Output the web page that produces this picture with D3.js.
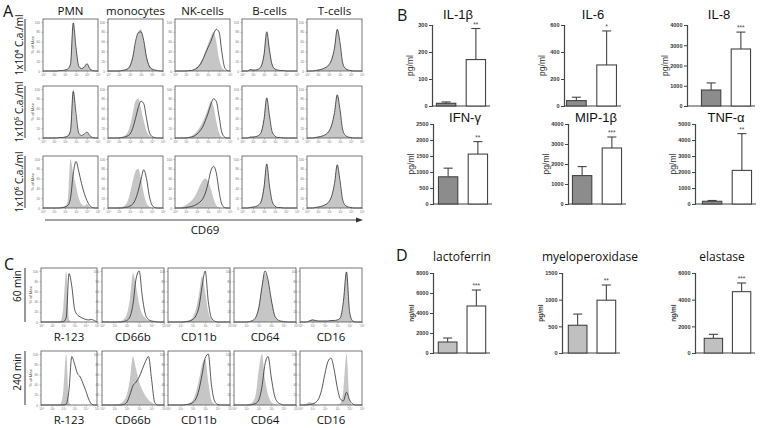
<!DOCTYPE html>
<html><head><meta charset="utf-8">
<script src="https://cdn.jsdelivr.net/npm/d3@7"></script>
<style>body{margin:0;background:#fff}svg{display:block}</style>
</head><body>
<script>
// ---------------- DATA ----------------
const cellTypes = ["PMN","monocytes","NK-cells","B-cells","T-cells"];
const concLabels = ["1x10⁴ C.a./ml","1x10⁵ C.a./ml","1x10⁶ C.a./ml"];
const histTickLabels = ["10⁰","10¹","10²","10³","10⁴","10⁵"];
const pctTicks = [0,20,40,60,80,100];
const histAxisLabel = "% of Max";
const aAxisLabel = "CD69";
// Panel A: 21 bins over 5 decades; rows = concentration, entries = cell type
const aControl = [
  [[0,0,0,0,0,0,1,1,2,4,15,100,45,10,5,8,14,5,1,0,0],
   [0,0,0,0,0,1,2,5,12,30,55,80,85,60,30,12,5,2,1,0,0],
   [0,0,0,0,0,1,2,4,8,15,25,40,55,70,80,60,25,8,2,0,0],
   [0,0,0,3,2,2,4,10,35,78,45,12,4,2,1,1,0,0,0,0,0],
   [0,0,0,1,2,3,5,8,14,25,45,86,55,15,5,2,1,0,0,0,0]],
  [[0,0,0,0,0,0,1,1,2,5,18,100,40,8,4,6,10,4,1,0,0],
   [0,0,0,0,1,2,4,10,25,50,75,80,60,35,15,5,2,1,0,0,0],
   [0,0,0,0,1,2,4,8,14,22,32,45,60,75,65,35,10,2,0,0,0],
   [0,0,0,2,2,3,5,12,40,80,42,10,3,1,1,0,0,0,0,0,0],
   [0,0,0,1,2,3,5,8,15,28,50,90,55,14,4,2,1,0,0,0,0]],
  [[0,0,0,0,0,0,1,2,4,15,100,70,45,20,8,4,8,2,0,0,0],
   [0,0,0,0,1,2,5,12,30,55,75,80,60,30,10,3,1,0,0,0,0],
   [0,0,1,3,6,10,15,22,32,45,55,60,55,40,20,6,1,0,0,0,0],
   [0,0,0,1,2,3,6,15,45,88,42,12,4,1,1,0,0,0,0,0,0],
   [0,0,0,1,2,3,5,8,14,26,48,90,52,14,5,2,1,0,0,0,0]]
];
const aStimulated = [
  [[0,0,0,0,0,0,1,1,2,4,14,98,48,10,5,8,15,5,1,0,0],
   [0,0,0,0,0,1,2,4,10,28,60,78,80,62,28,10,4,2,1,0,0],
   [0,0,0,0,0,1,1,3,6,12,22,35,48,60,75,85,80,40,8,1,0],
   [0,0,0,3,2,2,4,10,33,80,42,12,4,2,1,1,0,0,0,0,0],
   [0,0,0,1,2,3,5,8,13,24,47,85,58,16,5,2,1,0,0,0,0]],
  [[0,0,0,0,0,0,1,1,2,4,15,95,50,10,5,8,12,5,1,0,0],
   [0,0,0,0,0,1,2,4,8,20,40,62,75,70,40,12,3,1,0,0,0],
   [0,0,0,0,0,1,2,4,8,14,22,35,50,68,80,75,45,12,2,0,0],
   [0,0,0,2,2,3,5,12,38,82,45,12,4,1,1,0,0,0,0,0,0],
   [0,0,0,1,2,3,5,8,14,27,52,88,58,16,5,2,1,0,0,0,0]],
  [[0,0,0,0,0,0,0,1,2,5,20,70,95,75,50,30,15,5,1,0,0],
   [0,0,0,0,0,0,1,2,4,8,18,35,58,78,60,25,6,1,0,0,0],
   [0,0,0,0,1,2,3,5,8,12,18,30,50,75,85,72,35,8,1,0,0],
   [0,0,0,1,2,3,6,14,42,90,45,13,4,1,1,0,0,0,0,0,0],
   [0,0,0,1,2,3,5,8,13,25,50,88,56,16,5,2,1,0,0,0,0]]
];
// Panel C
const markers = ["R-123","CD66b","CD11b","CD64","CD16"];
const timeLabels = ["60 min","240 min"];
const cControl = [
  [[0,0,0,0,0,0,0,2,30,100,5,0,0,0,0,0,0,0,0,0,0],
   [0,0,0,0,0,1,2,5,15,45,95,70,35,15,8,4,2,1,0,0,0],
   [0,0,0,0,0,1,2,4,10,25,55,90,60,20,5,1,0,0,0,0,0],
   [0,0,0,0,0,1,3,10,30,70,95,80,45,15,5,2,1,0,0,0,0],
   [0,0,0,2,5,3,2,2,2,2,3,3,4,8,40,100,20,2,0,0,0]],
  [[0,0,0,0,0,0,0,2,30,100,5,0,0,0,0,0,0,0,0,0,0],
   [0,0,0,0,0,1,3,8,20,50,95,70,45,30,18,10,5,2,1,0,0],
   [0,0,0,0,0,1,2,4,10,25,50,80,90,45,10,2,0,0,0,0,0],
   [0,0,0,0,0,2,6,20,70,100,50,20,6,2,1,0,0,0,0,0,0],
   [0,0,2,6,4,2,1,1,1,1,1,1,1,3,30,100,10,0,0,0,0]]
];
const cStimulated = [
  [[0,0,0,0,0,0,0,0,1,8,95,70,25,14,10,7,5,4,5,3,0],
   [0,0,0,0,0,0,0,1,3,10,35,85,100,50,15,5,2,1,0,0,0],
   [0,0,0,0,0,0,1,2,5,12,30,70,100,40,8,2,0,0,0,0,0],
   [0,0,0,0,0,1,3,9,28,68,100,82,45,15,5,2,1,0,0,0,0],
   [0,0,0,2,4,3,2,2,2,2,3,3,4,8,40,98,20,2,0,0,0]],
  [[0,0,0,0,0,0,0,0,0,2,30,95,80,62,55,42,28,12,2,0,0],
   [0,0,0,0,0,0,0,1,5,20,38,45,55,70,85,95,50,5,0,0,0],
   [0,0,0,0,0,0,1,2,5,12,30,60,92,100,40,8,1,0,0,0,0],
   [0,0,0,0,0,0,1,3,10,35,80,95,55,20,6,2,0,0,0,0,0],
   [0,0,0,1,2,5,12,30,60,85,92,70,35,12,8,25,10,2,0,0,0]]
];
// Panel B cytokines
const groups = ["control","stimulated"];
const cytokines = ["IL-1β","IL-6","IL-8","IFN-γ","MIP-1β","TNF-α"];
const cytoControl = [10, 40, 790, 850, 1420, 170];
const cytoControlSD = [5, 25, 350, 270, 450, 50];
const cytoStim = [172, 304, 2815, 1560, 2800, 2100];
const cytoStimSD = [115, 252, 835, 390, 550, 2300];
const cytoMax = [300, 600, 4000, 2500, 4000, 5000];
const cytoStep = [100, 200, 1000, 500, 1000, 1000];
const cytoStars = ["**","*","***","**","***","**"];
const cytoUnit = "pg/ml";
// Panel D granule proteins
const granules = ["lactoferrin","myeloperoxidase","elastase"];
const granUnits = ["ng/ml","pg/ml","ng/ml"];
const granControl = [1100, 520, 1100];
const granControlSD = [400, 210, 300];
const granStim = [4700, 990, 4600];
const granStimSD = [1600, 285, 650];
const granMax = [8000, 1500, 6000];
const granStep = [2000, 500, 2000];
const granStars = ["***","**","***"];

// ---------------- DRAW ----------------
const W = 761, H = 428;
const svg = d3.select("body").append("svg").attr("width", W).attr("height", H);
const SANS = "'Open Sans','DejaVu Sans',sans-serif";
const ARIAL = "'Liberation Sans',Arial,sans-serif";
const NARROW = "'Liberation Sans Narrow','Liberation Sans',Arial,sans-serif";

function letter(t, x, y) {
  svg.append("text").attr("x", x).attr("y", y).text(t)
    .attr("font-family", SANS).attr("font-size", 16).attr("fill", "#111");
}

function drawHist(x0, y0, w, h, grey, line, showLabel) {
  const g = svg.append("g");
  const x = d3.scaleLinear().domain([0, 5]).range([x0, x0 + w]);
  const y = d3.scaleLinear().domain([0, 100]).range([y0 + h, y0 + 3]);
  const bx = (d, i) => x(i * 0.25);
  const area = d3.area().x(bx).y0(y(0)).y1(d => y(d)).curve(d3.curveMonotoneX);
  const ln = d3.line().x(bx).y(d => y(d)).curve(d3.curveMonotoneX);
  g.append("path").datum(grey).attr("d", area).attr("fill", "#c6c6c6");
  g.append("path").datum(line).attr("d", ln).attr("fill", "none")
    .attr("stroke", "#222").attr("stroke-width", 0.75);
  g.append("rect").attr("x", x0).attr("y", y0).attr("width", w).attr("height", h)
    .attr("fill", "none").attr("stroke", "#555").attr("stroke-width", 0.8);
  const ya = g.append("g").attr("transform", `translate(${x0},0)`)
    .call(d3.axisLeft(y).tickValues(pctTicks).tickSize(1.5).tickPadding(1.5));
  const xa = g.append("g").attr("transform", `translate(0,${y0 + h})`)
    .call(d3.axisBottom(x).tickValues(d3.range(0, 6)).tickFormat(i => histTickLabels[i]).tickSize(1.5).tickPadding(1));
  [ya, xa].forEach(a => {
    a.select(".domain").remove();
    a.selectAll("line").attr("stroke", "#777").attr("stroke-width", 0.5);
    a.selectAll("text").attr("font-size", 3.2).attr("fill", "#777").attr("font-family", ARIAL);
  });
  if (showLabel) {
    g.append("text").attr("transform", `translate(${x0 - 9},${y0 + h / 2}) rotate(-90)`)
      .attr("text-anchor", "middle").attr("font-size", 4.2).attr("fill", "#555")
      .attr("font-family", ARIAL).text(histAxisLabel);
  }
}

function rowLabel(t, cx, yTop, yBot, anchor) {
  svg.append("line").attr("x1", 25).attr("x2", 25).attr("y1", yTop).attr("y2", yBot)
    .attr("stroke", "#333").attr("stroke-width", 1);
  const ty = anchor === "middle" ? (yTop + yBot) / 2 : yTop + 2;
  svg.append("text").attr("transform", `translate(${cx},${ty}) rotate(-90)`)
    .attr("text-anchor", anchor).attr("font-family", SANS).attr("font-size", 10)
    .attr("fill", "#111").text(t);
}

// ---- Panel A ----
letter("A", 3, 17);
const aColX = [43, 108, 175, 242, 307], aBoxW = 55;
const aRowY = [19, 86, 156], aBoxH = 52;
cellTypes.forEach((c, j) => {
  svg.append("text").attr("x", aColX[j] + aBoxW / 2).attr("y", 15).attr("text-anchor", "middle")
    .attr("font-family", SANS).attr("font-size", 11.5).attr("fill", "#111").text(c);
});
aRowY.forEach((ry, r) => {
  rowLabel(concLabels[r], 23, ry, ry + aBoxH, "middle");
  cellTypes.forEach((c, j) => drawHist(aColX[j], ry, aBoxW, aBoxH, aControl[r][j], aStimulated[r][j], j === 0));
});
svg.append("line").attr("x1", 45).attr("x2", 358).attr("y1", 220).attr("y2", 220)
  .attr("stroke", "#333").attr("stroke-width", 0.9);
svg.append("path").attr("d", "M356,217.5 L363,220 L356,222.5 Z").attr("fill", "#333");
svg.append("text").attr("x", 205).attr("y", 234).attr("text-anchor", "middle")
  .attr("font-family", SANS).attr("font-size", 11.5).attr("fill", "#111").text(aAxisLabel);

// ---- Panel C ----
letter("C", 4, 270);
const cColX = [41, 102, 168, 234, 300], cBoxW = [56, 62, 62, 62, 62];
const cRowY = [268, 351], cBoxH = 54;
cRowY.forEach((ry, r) => {
  rowLabel(timeLabels[r], 21, ry, ry + cBoxH, "end");
  markers.forEach((m, j) => {
    drawHist(cColX[j], ry, cBoxW[j], cBoxH, cControl[r][j], cStimulated[r][j], j === 0);
    svg.append("text").attr("x", cColX[j] + cBoxW[j] / 2).attr("y", ry + cBoxH + 19)
      .attr("text-anchor", "middle").attr("font-family", SANS).attr("font-size", 11.5)
      .attr("fill", "#111").text(m);
  });
});

// ---- Bar charts ----
function drawBars(opt) {
  const g = svg.append("g");
  const x = d3.scaleBand().domain(groups).range([opt.r0, opt.r1]).paddingInner(0.35).paddingOuter(0.15);
  const y = d3.scaleLinear().domain([0, opt.max]).range([opt.yb, opt.yt]);
  const means = [opt.ctrl, opt.stim], sds = [opt.ctrlSD, opt.stimSD];
  const ya = g.append("g").attr("transform", `translate(${opt.ax},0)`)
    .call(d3.axisLeft(y).tickValues(d3.range(0, opt.max + 1, opt.step)).tickFormat(d3.format("d"))
      .tickSize(3).tickPadding(1.5));
  ya.select(".domain").attr("stroke", "#444").attr("stroke-width", 1.2);
  ya.selectAll("line").attr("stroke", "#444").attr("stroke-width", 1);
  ya.selectAll("text").attr("font-size", 5.5).attr("font-weight", "bold").attr("fill", "#333").attr("font-family", ARIAL);
  g.append("line").attr("x1", opt.ax).attr("x2", opt.r1).attr("y1", y(0)).attr("y2", y(0))
    .attr("stroke", "#444").attr("stroke-width", 1.2);
  groups.forEach((k, i) => {
    const bx = x(k), bw = x.bandwidth();
    const top = y(means[i]), et = y(means[i] + sds[i]), cx = bx + bw / 2;
    g.append("line").attr("x1", cx).attr("x2", cx).attr("y1", top).attr("y2", et)
      .attr("stroke", "#444").attr("stroke-width", 1.1);
    g.append("line").attr("x1", cx - 4.5).attr("x2", cx + 4.5).attr("y1", et).attr("y2", et)
      .attr("stroke", "#444").attr("stroke-width", 1.1);
    g.append("rect").attr("x", bx).attr("y", top).attr("width", bw).attr("height", y(0) - top)
      .attr("fill", i === 0 ? opt.fill : "#fff").attr("stroke", "#444").attr("stroke-width", 1.1);
    if (i === 1) {
      g.append("text").attr("x", cx).attr("y", et - 2).attr("text-anchor", "middle")
        .attr("font-family", ARIAL).attr("font-size", 6.5).attr("fill", "#444").text(opt.stars);
    }
  });
  g.append("text").attr("x", opt.tx).attr("y", opt.ty).attr("text-anchor", "middle")
    .attr("font-family", opt.tfont).attr("font-size", opt.tsize).attr("fill", "#111").text(opt.title);
  g.append("text").attr("transform", `translate(${opt.ax - 19},${(opt.yb + opt.yt) / 2}) rotate(-90)`)
    .attr("text-anchor", "middle").attr("font-family", ARIAL).attr("font-size", opt.usize)
    .attr("font-weight", opt.ubold ? "bold" : "normal").attr("fill", "#333").text(opt.unit);
}

letter("B", 397, 21);
const bAx = [432, 564, 687, 433, 568, 695];
const bR = [[432, 490], [562, 621], [697, 755], [434, 492], [568, 626], [698, 756]];
const bYb = [106, 106, 106, 204, 204, 204], bYt = [25, 25, 25, 124, 124, 124];
const bTx = [458, 593, 719, 465, 596, 726], bTy = [19, 19, 19, 122, 122, 122];
cytokines.forEach((c, i) => drawBars({
  ax: bAx[i], r0: bR[i][0], r1: bR[i][1], yb: bYb[i], yt: bYt[i], max: cytoMax[i], step: cytoStep[i],
  ctrl: cytoControl[i], ctrlSD: cytoControlSD[i], stim: cytoStim[i], stimSD: cytoStimSD[i],
  stars: cytoStars[i], title: c, tx: bTx[i], ty: bTy[i], tfont: NARROW, tsize: 13,
  unit: cytoUnit, usize: 8.5, ubold: false, fill: "#8c8c8c"
}));

letter("D", 396, 261);
const dAx = [433, 562, 695];
const dR = [[434, 490], [564, 620], [700, 755]];
const dTx = [462, 590, 722];
granules.forEach((c, i) => drawBars({
  ax: dAx[i], r0: dR[i][0], r1: dR[i][1], yb: 353, yt: 273, max: granMax[i], step: granStep[i],
  ctrl: granControl[i], ctrlSD: granControlSD[i], stim: granStim[i], stimSD: granStimSD[i],
  stars: granStars[i], title: c, tx: dTx[i], ty: 261, tfont: SANS, tsize: 12,
  unit: granUnits[i], usize: 6.5, ubold: true, fill: "#c0c0c0"
}));
</script>
</body></html>
